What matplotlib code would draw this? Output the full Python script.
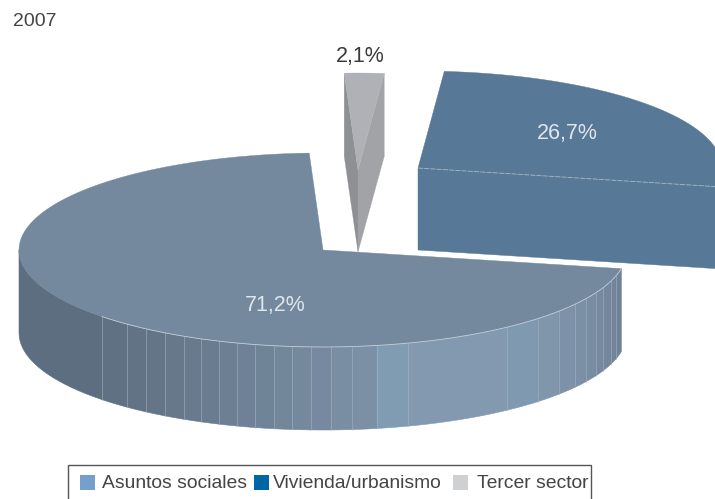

import numpy as np
import matplotlib
matplotlib.use('Agg')
import matplotlib.pyplot as plt
from matplotlib.patches import Polygon, Rectangle

year = '2007'
categories = ['Asuntos sociales', 'Vivienda/urbanismo', 'Tercer sector']
shares = [71.2, 26.7, 2.1]
share_labels = ['71,2%', '26,7%', '2,1%']
legend_colors = ['#75a0cb', '#0066a6', '#cfd0d2']

# facets of the big slice side wall, seen on the picture (x of each divider)
facet_x = [19, 102, 127, 146, 165, 184, 201, 219, 237, 255, 274, 292, 311, 331, 352,
           377, 408, 507, 538, 559, 575, 586, 596, 603, 611, 616, 620]
facet_colors = ['#5c6e7f', '#5f7182', '#617385', '#637587', '#667889', '#687a8c', '#6a7d90',
                '#6c7f93', '#6e8196', '#708498', '#73879b', '#75899d', '#7789a0', '#798da3',
                '#7b8fa5', '#7f9cb3', '#8399b0', '#7f9ab0', '#7f96ab', '#7d92a8', '#7b8fa5',
                '#788ca2', '#76899f', '#74879c', '#728499', '#6f8296']

rx, ry, depth = 304, 97, 83
start_angle = 92.6
centers = [(323, 250), (418, 168), (358, 170)]
top_colors = ['#74899e', '#587897', '#b0b1b6']

fig = plt.figure(figsize=(7.15, 4.99), dpi=100)
ax = fig.add_axes([0, 0, 1, 1])
ax.set_xlim(0, 715)
ax.set_ylim(499, 0)
ax.axis('off')


def rim(center, angles, drop=0):
    t = np.radians(angles)
    return np.column_stack([center[0] + rx * np.cos(t), center[1] - ry * np.sin(t) + drop])


ends = start_angle + np.cumsum(shares) * 3.6
starts = np.r_[start_angle, ends[:-1]]

# big slice, wall first
c = centers[0]
theta = [360 - np.degrees(np.arccos((x - c[0]) / rx)) for x in facet_x]
theta[-1] = ends[0]
for i in range(len(facet_colors)):
    a = np.linspace(theta[i], theta[i + 1], 20)
    up = rim(c, a)
    low = rim(c, a[::-1], depth)
    ax.add_patch(Polygon(np.vstack([up, low]), fc=facet_colors[i], ec=facet_colors[i], lw=0.4))
    if i > 0:
        ax.plot([up[0, 0], up[0, 0]], [up[0, 1], up[0, 1] + depth], color='#a9b6c3', lw=0.5, alpha=0.75)
a = np.linspace(starts[0], ends[0], 200)
ax.add_patch(Polygon(np.vstack([[c], rim(c, a)]), fc=top_colors[0], ec=top_colors[0], lw=0.3))
front = np.linspace(theta[1], ends[0], 200)
ax.plot(*rim(c, front).T, color='#c4cfd9', lw=0.6)

# middle slice, runs off the right side
c = centers[1]
a = np.linspace(starts[1], ends[1], 100)
edge = rim(c, [a[0]])
wall = np.vstack([[c], edge, edge + [0, depth - 1], [c[0], c[1] + depth - 1]])
ax.add_patch(Polygon(wall, fc=top_colors[1], ec=top_colors[1], lw=0.3, clip_on=True))
ax.add_patch(Polygon(np.vstack([[c], rim(c, a)]), fc=top_colors[1], ec=top_colors[1], lw=0.3))
ax.plot([c[0], edge[0, 0]], [c[1], edge[0, 1]], color='#a7b8c8', lw=0.6, ls=(0, (6, 1.5)))

# small slice
c = centers[2]
a = np.linspace(starts[2], ends[2], 10)
tip = np.array([c[0], c[1] + depth - 1])
right, left = rim(c, [a[0]])[0], rim(c, [a[-1]])[0]
ax.add_patch(Polygon([left, c, tip, left + [0, depth]], fc='#8f9094', ec='#8f9094', lw=0.2))
ax.add_patch(Polygon([right, c, tip, right + [0, depth]], fc='#a2a3a7', ec='#a2a3a7', lw=0.2))
ax.add_patch(Polygon(np.vstack([[c], rim(c, a)]), fc=top_colors[2], ec=top_colors[2], lw=0.2))

font = 'Liberation Sans'
ax.text(13, 21, year, fontsize=14, color='#444444', family=font, va='center')
label_pos = [(275, 305), (567, 134), (360, 56)]
label_colors = ['#dfe6ec', '#dfe6ec', '#3a3a3a']
for lab, pos, col in zip(share_labels, label_pos, label_colors):
    ax.text(pos[0], pos[1], lab, fontsize=15.5, color=col, family=font, ha='center', va='center')

# legend box, bottom is cut by the picture
ax.add_patch(Rectangle((68, 465), 523, 50, fc='white', ec='#555555', lw=1, clip_on=True))
square_x = [80, 254, 453]
text_x = [102, 273, 477]
for name, col, sx, tx in zip(categories, legend_colors, square_x, text_x):
    ax.add_patch(Rectangle((sx, 475), 14.5, 15, fc=col, ec='none'))
    ax.text(tx, 484, name, fontsize=13.9, color='#444444', family=font, va='center')

fig.savefig('out.png', dpi=100)
